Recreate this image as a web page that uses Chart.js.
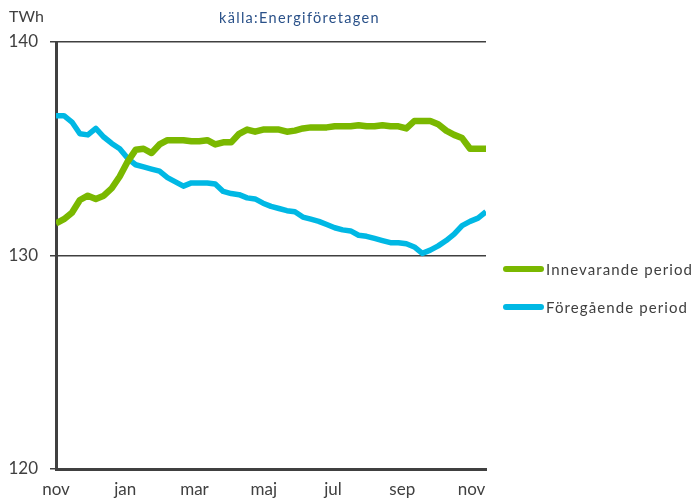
<!DOCTYPE html>
<html>
<head>
<meta charset="utf-8">
<script src="https://cdn.jsdelivr.net/npm/chart.js@4.4.1/dist/chart.umd.min.js"></script>
<style>
  html, body { margin: 0; padding: 0; background: #ffffff; }
  #wrap { position: relative; width: 695px; height: 499px; }
</style>
</head>
<body>
<div id="wrap"><canvas id="c" width="695" height="499"></canvas></div>
<script>
// ---- data (weekly values, TWh, rolling 12 months) ----
const seriesNames = ['Innevarande period', 'Föregående period'];
const innevarande = [
  131.5, 131.7, 132.0, 132.6, 132.8, 132.65, 132.8, 133.15, 133.7, 134.4,
  134.95, 135.0, 134.8, 135.2, 135.4, 135.4, 135.4, 135.35, 135.35, 135.4,
  135.2, 135.3, 135.3, 135.7, 135.9, 135.8, 135.9, 135.9, 135.9, 135.8,
  135.85, 135.95, 136.0, 136.0, 136.0, 136.05, 136.05, 136.05, 136.1, 136.05,
  136.05, 136.1, 136.05, 136.05, 135.95, 136.3, 136.3, 136.3, 136.15, 135.85,
  135.65, 135.5, 135.0, 135.0, 135.0
];
const foregaende = [
  136.55, 136.55, 136.25, 135.7, 135.65, 135.95, 135.55, 135.25, 135.0, 134.55,
  134.25, 134.15, 134.05, 133.95, 133.65, 133.45, 133.25, 133.4, 133.4, 133.4,
  133.35, 133.0, 132.9, 132.85, 132.7, 132.65, 132.45, 132.3, 132.2, 132.1,
  132.05, 131.8, 131.7, 131.6, 131.45, 131.3, 131.2, 131.15, 130.95, 130.9,
  130.8, 130.7, 130.6, 130.6, 130.55, 130.4, 130.1, 130.25, 130.45, 130.7,
  131.0, 131.4, 131.6, 131.75, 132.05
];
const monthLabels = ['nov', 'jan', 'mar', 'maj', 'jul', 'sep', 'nov'];
const yTicks = [120, 130, 140];
const unitLabel = 'TWh';
const sourceLabel = 'källa:Energiföretagen';

const seriesColors = ['#7AB800', '#00B8E4'];
const weeksPerTwoMonths = 52.18 / 6;
const FONT = 'Lato, "Open Sans", sans-serif';
const TEXT = '#404040';

const toPoints = arr => arr.map((v, i) => ({ x: i, y: v }));

const overlay = {
  id: 'overlay',
  afterDraw(chart) {
    const ctx = chart.ctx;
    ctx.save();
    // unit
    ctx.fillStyle = TEXT;
    ctx.font = '16px ' + FONT;
    ctx.textAlign = 'left';
    ctx.textBaseline = 'middle';
    ctx.fillText(unitLabel, 9, 17);
    // source
    ctx.fillStyle = '#2A5189';
    ctx.font = '14.5px ' + FONT;
    ctx.letterSpacing = '1.3px';
    ctx.textAlign = 'left';
    ctx.fillText(sourceLabel, 219, 18);
    // legend
    const ys = [269, 307];
    chart.data.datasets.forEach((ds, k) => {
      ctx.strokeStyle = ds.borderColor;
      ctx.lineWidth = 6;
      ctx.lineCap = 'round';
      ctx.beginPath();
      ctx.moveTo(506, ys[k]);
      ctx.lineTo(541, ys[k]);
      ctx.stroke();
      ctx.fillStyle = TEXT;
      ctx.font = '15px ' + FONT;
      ctx.letterSpacing = '1.1px';
      ctx.textAlign = 'left';
      ctx.textBaseline = 'middle';
      ctx.fillText(ds.label, 546, ys[k] + 1);
    });
    ctx.restore();
  }
};

new Chart(document.getElementById('c'), {
  type: 'line',
  data: {
    datasets: [
      { label: seriesNames[0], data: toPoints(innevarande), borderColor: seriesColors[0], backgroundColor: seriesColors[0], borderWidth: 6.5 },
      { label: seriesNames[1], data: toPoints(foregaende), borderColor: seriesColors[1], backgroundColor: seriesColors[1], borderWidth: 5.5 }
    ]
  },
  options: {
    responsive: false,
    animation: false,
    layout: { padding: { top: 42, right: 209, bottom: 0, left: 0 } },
    elements: {
      point: { radius: 0 },
      line: { tension: 0, borderJoinStyle: 'round', borderCapStyle: 'butt' }
    },
    plugins: { legend: { display: false }, tooltip: { enabled: false }, title: { display: false } },
    scales: {
      x: {
        type: 'linear',
        min: 0,
        max: innevarande.length - 1,
        afterFit(scale) { scale.height = 30; },
        afterBuildTicks(scale) {
          scale.ticks = monthLabels.map((l, k) => ({ value: k * weeksPerTwoMonths }));
        },
        ticks: {
          autoSkip: false,
          maxRotation: 0,
          padding: 10,
          color: TEXT,
          font: { family: FONT, size: 17 },
          callback(value, index) { return monthLabels[index]; }
        },
        grid: { display: false, drawTicks: false },
        border: { display: true, color: '#404040', width: 3 }
      },
      y: {
        min: 120,
        max: 140,
        afterFit(scale) { scale.width = 56; },
        afterBuildTicks(scale) {
          scale.ticks = yTicks.map(v => ({ value: v }));
        },
        ticks: {
          padding: 12,
          color: TEXT,
          font: { family: FONT, size: 17 }
        },
        grid: { color: '#404040', lineWidth: 1.5, tickLength: 6, drawTicks: true },
        border: { display: true, color: '#404040', width: 3 }
      }
    }
  },
  plugins: [overlay]
});
</script>
</body>
</html>
